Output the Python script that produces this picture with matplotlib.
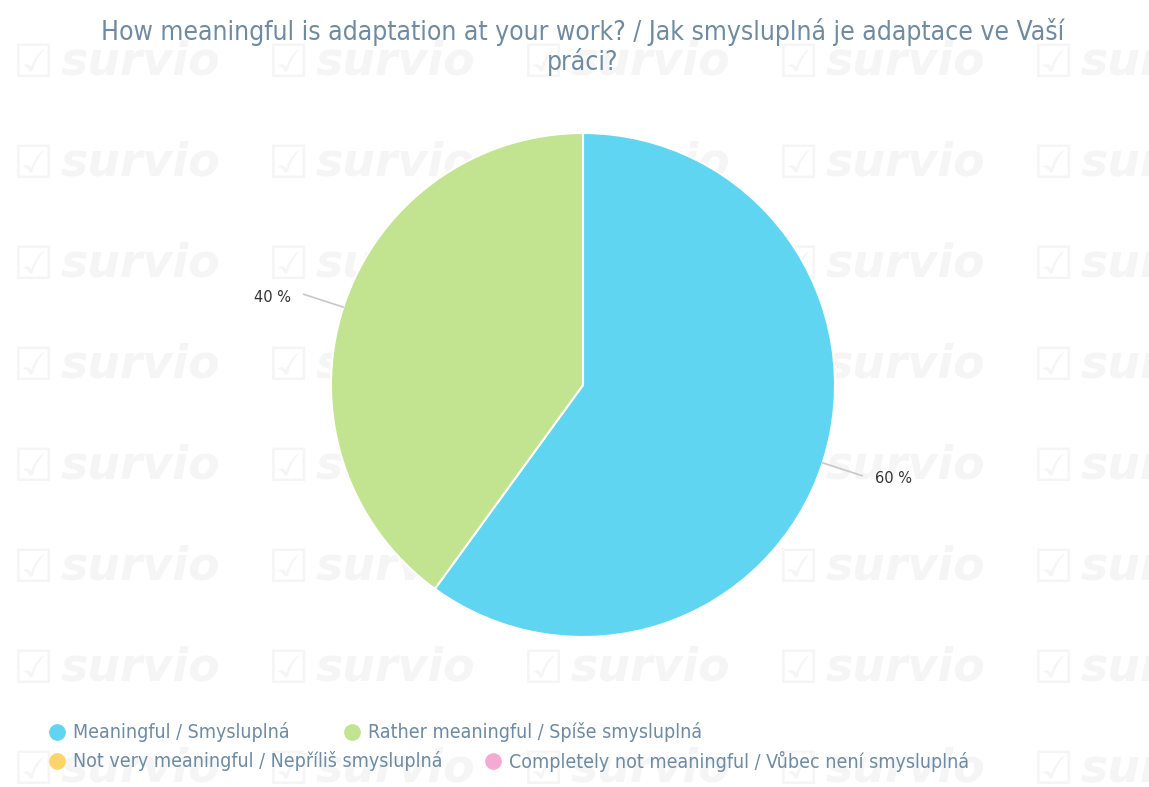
import numpy as np
import matplotlib.pyplot as plt
from matplotlib.lines import Line2D

# Survey answers and shares
categories = [
    "Meaningful / Smysluplná",
    "Rather meaningful / Spíše smysluplná",
    "Not very meaningful / Nepříliš smysluplná",
    "Completely not meaningful / Vůbec není smysluplná",
]
shares = [60, 40, 0, 0]
colors = ["#5fd5f1", "#c2e38f", "#fdd36a", "#f5aad4"]
title = "How meaningful is adaptation at your work? / Jak smysluplná je adaptace ve Vaší\npráci?"

plt.rcParams["font.family"] = ["DejaVu Sans"]
text_color = "#6f8ba2"

W, H = 1149, 787
fig = plt.figure(figsize=(W / 100, H / 100), dpi=100)
fig.patch.set_facecolor("white")

# background watermark tiles, kept in their own axes underneath everything
bg = fig.add_axes([0, 0, 1, 1], zorder=-10)
bg.set_xlim(0, W)
bg.set_ylim(H, 0)
bg.axis("off")
for row in range(8):
    for col in range(5):
        x = 13 + col * 255
        y = 62 + row * 101
        bg.text(x, y + 2, "\u2611", fontsize=33, color="#f5f5f5", ha="left", va="center")
        bg.text(x + 48, y, "survio", fontsize=33, color="#f5f5f5",
                fontweight="bold", style="italic", ha="left", va="center")

fig.text(583 / W, 1 - 47 / H, title, ha="center", va="center", fontsize=19,
         color=text_color, fontstretch="condensed", linespacing=1.12)

# pie axes: centre (583, 385), radius 252 px
cx, cy, r = 583, 385, 252
ax = fig.add_axes([(cx - r) / W, (H - cy - r) / H, 2 * r / W, 2 * r / H])
ax.set_facecolor("none")
wedges, _ = ax.pie(shares[:2], colors=colors[:2], startangle=90, counterclock=False,
                   radius=1, wedgeprops=dict(edgecolor="white", linewidth=1.5))
ax.set_xlim(-1, 1)
ax.set_ylim(-1, 1)
ax.set_aspect("equal")
ax.axis("off")

for w, val in zip(wedges, shares[:2]):
    mid = np.deg2rad((w.theta1 + w.theta2) / 2)
    x0, y0 = np.cos(mid), np.sin(mid)
    x1, y1 = 1.165 * x0, 1.165 * y0
    ax.plot([x0, x1], [y0, y1], color="#c8c8c8", lw=1.2, clip_on=False)
    side = 1 if x0 > 0 else -1
    ax.text(x1 + side * 0.05, y1 - 0.012, f"{val} %", ha="left" if side > 0 else "right",
            va="center", fontsize=10.5, color="#333333")

# legend laid out in two flowing rows
legend_pos = [(57, 732), (352, 732), (57, 761), (493, 761)]
for (lx, ly), label, c in zip(legend_pos, categories, colors):
    fig.add_artist(Line2D([lx / W], [1 - ly / H], marker="o", markersize=11,
                          color=c, linestyle="none", transform=fig.transFigure))
    fig.text((lx + 16) / W, 1 - ly / H, label, ha="left", va="center", fontsize=14,
             color=text_color, fontstretch="condensed")

fig.savefig("out.png", dpi=100)
